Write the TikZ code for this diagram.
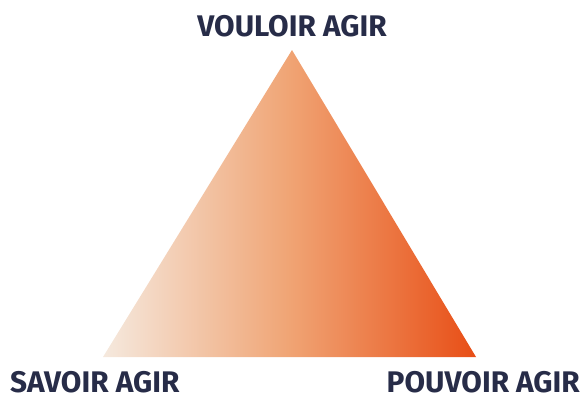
\documentclass[tikz,border=0pt]{standalone}
\usepackage{fontspec}
\setmainfont{Fira Sans}
\definecolor{navy}{HTML}{272C48}
\definecolor{gleft}{HTML}{F5E9DE}
\definecolor{gmid}{HTML}{F0A474}
\definecolor{gright}{HTML}{E84E16}
\begin{document}
\begin{tikzpicture}[x=1pt,y=-1pt,
  lbl/.style={text=navy,font=\fontsize{29.8}{30}\selectfont\bfseries,inner sep=0pt}]
\useasboundingbox (0,0) rectangle (582,394);
\coordinate (top) at (292,50);
\coordinate (bl) at (103,357);
\coordinate (br) at (476,357);
\shade[left color=gleft,right color=gright,middle color=gmid] (top) -- (br) -- (bl) -- cycle;
\node[lbl,anchor=base] (v) at (292,36) {VOULOIR AGIR};
\node[lbl,anchor=base west] (s) at (10,392.5) {SAVOIR AGIR};
\node[lbl,anchor=base east] (p) at (580,392.5) {POUVOIR AGIR};
\end{tikzpicture}
\end{document}
